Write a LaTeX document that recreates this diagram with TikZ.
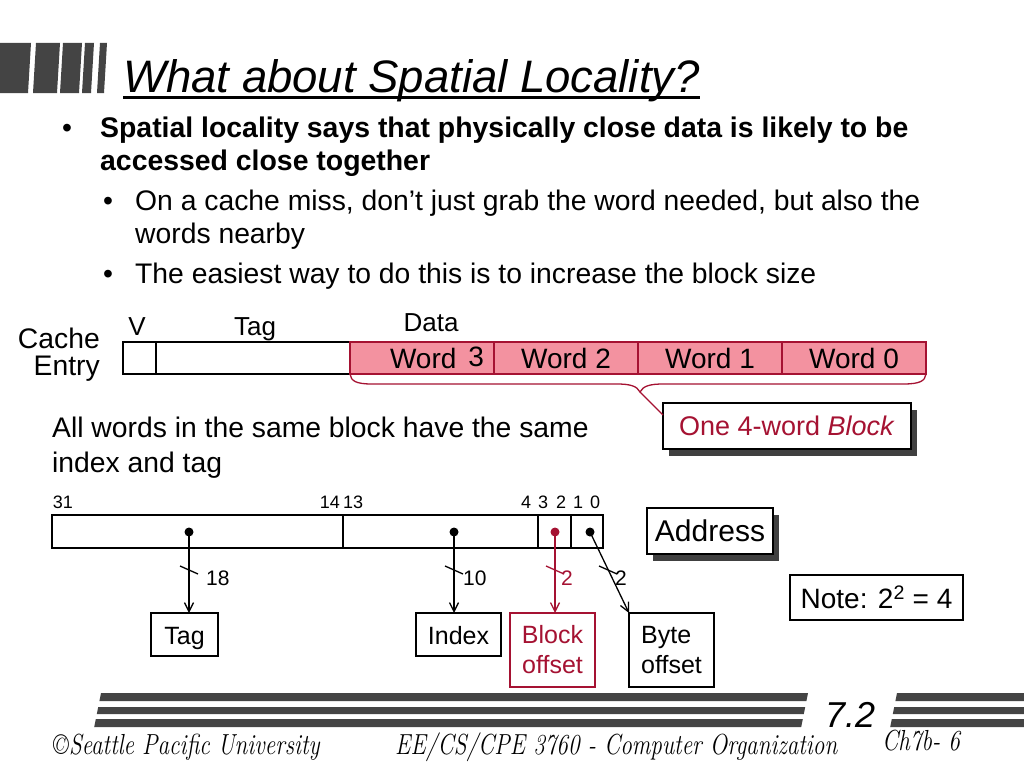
\documentclass[tikz,border=0pt]{standalone}
\usepackage{fontspec}
\usepackage{tikz}
\usetikzlibrary{positioning,shadows,arrows.meta}
\newfontfamily\arial{Liberation Sans}
\definecolor{dred}{RGB}{165,18,50}
\definecolor{wpink}{RGB}{243,146,160}
\definecolor{bargray}{RGB}{68,68,68}
\newcommand{\footit}[1]{\scalebox{0.8}[1]{\itshape #1}}
\tikzstyle{txt} = [inner sep=0pt, anchor=base west, font=\arial\fontsize{28.3}{28.3}\selectfont]
\tikzstyle{lbl} = [inner sep=0pt, anchor=base, font=\arial\fontsize{26}{26}\selectfont]
\tikzstyle{bit} = [inner sep=0pt, anchor=base, font=\arial\fontsize{18}{18}\selectfont]
\tikzstyle{wid} = [inner sep=0pt, anchor=base west, font=\arial\fontsize{21}{21}\selectfont]
\tikzstyle{cell} = [draw, line width=1.3pt, minimum height=32pt, inner sep=0pt, outer sep=0pt, font=\arial\fontsize{28}{28}\selectfont]
\tikzstyle{word} = [cell, draw=dred, fill=wpink, minimum width=144pt]
\tikzstyle{field} = [draw, line width=1.3pt, minimum height=33pt, inner sep=0pt, outer sep=0pt]
\tikzstyle{box} = [draw, line width=1.3pt, fill=white, inner sep=0pt, outer sep=0pt, anchor=north west, font=\arial\fontsize{25}{30}\selectfont]
\tikzstyle{onebox} = [box, minimum height=43pt, text height=24pt, text depth=5pt]
\tikzstyle{shbox} = [box, drop shadow={shadow xshift=6pt, shadow yshift=-7pt, fill=black!75, opacity=1}]
\tikzstyle{arr} = [line width=1.3pt, -{Straight Barb[length=9pt, width=9pt]}]
\tikzstyle{ftr} = [inner sep=0pt, anchor=base west, font=\fontsize{29}{29}\selectfont]

\begin{document}
\begin{tikzpicture}[x=1pt, y=-1pt]
	\path[use as bounding box, fill=white] (0,0) rectangle (1024,768);
	% title bars
	\fill[bargray] (0,93) -- (28,93) -- (31,43) -- (0,43) -- cycle;
	\fill[bargray] (33,93) -- (57,93) -- (60,43) -- (36,43) -- cycle;
	\fill[bargray] (60,93) -- (79,93) -- (82,43) -- (63,43) -- cycle;
	\fill[bargray] (82,93) -- (91,93) -- (94,43) -- (85,43) -- cycle;
	\fill[bargray] (97,93) -- (104,93) -- (107,43) -- (100,43) -- cycle;
	\node[txt, font=\arial\itshape\fontsize{45.5}{45.5}\selectfont] (title) at (123,92) {What about Spatial Locality?};
	\draw[line width=3pt] ([yshift=-5pt]title.base west) -- ([yshift=-5pt]title.base east);

	% bullets
	\node[txt, anchor=base] (b1) at (67,137) {•};
	\node[txt, font=\arial\bfseries\fontsize{28.4}{28.4}\selectfont] (l1) at (100,137) {Spatial locality says that physically close data is likely to be};
	\node[txt, font=\arial\bfseries\fontsize{28.4}{28.4}\selectfont] (l2) at (100,170) {accessed close together};
	\node[txt, anchor=base] (b2) at (108,210) {•};
	\node[txt] (l3) at (135,210) {On a cache miss, don’t just grab the word needed, but also the};
	\node[txt] (l4) at (135,243) {words nearby};
	\node[txt, anchor=base] (b3) at (108,283) {•};
	\node[txt] (l5) at (135,283) {The easiest way to do this is to increase the block size};

	% cache entry
	\node[txt, anchor=base east] (cache) at (100,348) {Cache};
	\node[txt, anchor=base east] (entry) at (100,375) {Entry};
	\node[cell, minimum width=33pt, anchor=west] (v) at (123,358) {};
	\node[cell, minimum width=194pt, right=0pt of v] (tag) {};
	\node[word, right=0pt of tag] (w3) {\hspace*{30pt}Word\hspace{12pt}\raisebox{2pt}{3}};
	\node[word, right=0pt of w3] (w2) {Word 2};
	\node[word, right=0pt of w2] (w1) {Word 1};
	\node[word, right=0pt of w1] (w0) {Word 0};
	\node[lbl] (vl) at (137,335) {V};
	\node[lbl] (tagl) at (255,335) {Tag};
	\node[lbl] (datal) at (431,331) {Data};

	% block brace
	\coordinate (btip) at (640,392);
	\draw[dred, line width=1.3pt] (w3.south west) .. controls (351,381) and (356,384) .. (372,384) -- (617,384) .. controls (630,384) and (637,386) .. (btip) .. controls (643,386) and (650,384) .. (663,384) -- (903,384) .. controls (920,384) and (925,381) .. (w0.south east);
	\node[shbox, minimum width=248pt, minimum height=46pt, font=\arial\fontsize{27}{27}\selectfont, text=dred] (blk) at (663,403) {One 4-word \textit{Block}};
	\draw[dred, line width=1.3pt] (btip) -- ([yshift=11pt]blk.west);

	\node[txt] (all1) at (52,437) {All words in the same block have the same};
	\node[txt] (all2) at (52,472) {index and tag};

	% address
	\node[field, minimum width=291pt, anchor=west] (atag) at (52,531.5) {};
	\node[field, minimum width=195pt, right=0pt of atag] (aidx) {};
	\node[field, minimum width=33pt, right=0pt of aidx] (ablk) {};
	\node[field, minimum width=32pt, right=0pt of ablk] (abyte) {};
	\node[bit] (b31) at (63,508) {31};
	\node[bit, anchor=base east] (b14) at (340,508) {14};
	\node[bit, anchor=base west] (b13) at (343,508) {13};
	\node[bit] (bit4) at (526,508) {4};
	\node[bit] (bit3) at (543,508) {3};
	\node[bit] (bit2) at (561,508) {2};
	\node[bit] (bit1) at (578,508) {1};
	\node[bit] (bit0) at (595,508) {0};
	\coordinate (dtag) at (189,532);
	\coordinate (didx) at (454,532);
	\coordinate (dblk) at (555,532);
	\coordinate (dbyte) at (590,532);
	\fill (dtag) circle (4.5pt);
	\fill (didx) circle (4.5pt);
	\fill[dred] (dblk) circle (4.5pt);
	\fill (dbyte) circle (4.5pt);

	\node[onebox, minimum width=67pt] (tagb) at (151,613) {Tag};
	\node[onebox, minimum width=85pt] (idxb) at (416,613) {Index};
	\node[box, minimum width=85pt, minimum height=74pt, draw=dred, text=dred, align=center] (blkb) at (510,613) {Block\\offset};
	\node[box, minimum width=85pt, minimum height=74pt, align=left] (byteb) at (629,613) {Byte\\offset};
	\node[shbox, minimum width=126pt, minimum height=46pt, font=\arial\fontsize{30}{30}\selectfont] (addr) at (647,508) {Address};
	\node[box, minimum width=173pt, minimum height=45pt, font=\arial\fontsize{28}{28}\selectfont] (note) at (790,575) {Note: 2\textsuperscript{2} = 4};

	\draw[arr] (dtag) -- (dtag |- tagb.north);
	\draw[arr] (didx) -- (didx |- idxb.north);
	\draw[arr, dred] (dblk) -- (dblk |- blkb.north);
	\draw[arr] (dbyte) -- (byteb.north west);
	\draw[line width=1.3pt] (180,566) -- (198,574);
	\draw[line width=1.3pt] (445,566) -- (463,574);
	\draw[line width=1.3pt, dred] (546,566) -- (564,574);
	\draw[line width=1.3pt] (599,566) -- (617,574);
	\node[wid] (n18) at (206,585) {18};
	\node[wid] (n10) at (463,585) {10};
	\node[wid, text=dred] (n2a) at (561,585) {2};
	\node[wid] (n2b) at (615,585) {2};

	% footer bars
	\fill[bargray] (99.4,701) -- (806.4,701) -- (808,693) -- (101,693) -- cycle;
	\fill[bargray] (96.8,714) -- (803.8,714) -- (805.2,707) -- (98.2,707) -- cycle;
	\fill[bargray] (94.2,727) -- (801.2,727) -- (802.8,719) -- (95.8,719) -- cycle;
	\fill[bargray] (895.4,701) -- (1024,701) -- (1024,693) -- (897,693) -- cycle;
	\fill[bargray] (892.8,714) -- (1024,714) -- (1024,707) -- (894.2,707) -- cycle;
	\fill[bargray] (890.2,727) -- (1024,727) -- (1024,719) -- (891.8,719) -- cycle;
	\node[txt, font=\arial\itshape\fontsize{36}{36}\selectfont] (sec) at (825,727) {7.2};
	\node[ftr] (spu) at (53,754) {\footit{\textcopyright Seattle Pacific University}};
	\node[ftr] (course) at (395,754) {\footit{EE/CS/CPE 3760 - Computer Organization}};
	\node[ftr] (page) at (882,750) {\footit{Ch7b- 6}};
\end{tikzpicture}
\end{document}
